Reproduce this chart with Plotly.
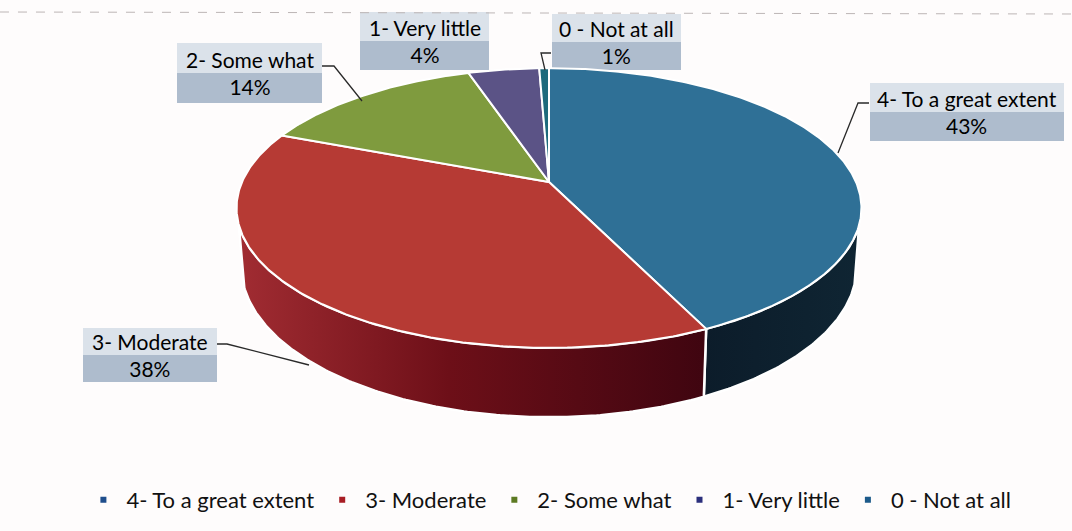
import math
import plotly.graph_objects as go

# ---- data ----
categories = ["4- To a great extent", "3- Moderate", "2- Some what", "1- Very little", "0 - Not at all"]
values = [43, 38, 14, 4.4, 0.6]

# ---- styles ----
top_colors = ["#2f7096", "#b63a34", "#7f9b3e", "#5b5386", "#1d6a7c"]
side_gradients = {
    0: [[0, "#0c1c2a"], [1, "#0f2533"]],
    1: [[0, "#a12c32"], [0.45, "#6d0f18"], [1, "#3f0510"]],
}
legend_colors = ["#1f4e8c", "#a81d24", "#5d7a22", "#2b2f7c", "#1c5a8a"]

# ---- projection of the pie plane ----
APEX_X, APEX_Y = 549, 182
SCALE_X, SCALE_Y, PERSP = 307, 135, 0.186
DEPTH, LOWER_SHRINK = 56.5, 0.985
VISIBLE_V = 0.3


def project(t, radius=1.0, lower=False):
    u, v = radius * math.sin(t), -radius * math.cos(t)
    s = 1 / (1 - PERSP * v)
    x, y = APEX_X + SCALE_X * u * s, APEX_Y + SCALE_Y * v * s
    if lower:
        x = APEX_X + (x - APEX_X) * LOWER_SHRINK
        y += DEPTH * s
    return x, y


def arc(a0, a1, lower=False):
    n = max(2, int(abs(a1 - a0) / 0.01))
    return [project(a0 + (a1 - a0) * i / n, lower=lower) for i in range(n + 1)]


total = sum(values)
edges = [0.0]
for val in values:
    edges.append(edges[-1] + 2 * math.pi * val / total)

vis0 = math.acos(-VISIBLE_V)
vis1 = 2 * math.pi - vis0

fig = go.Figure()

# side walls
for i, val in enumerate(values):
    a0, a1 = max(edges[i], vis0), min(edges[i + 1], vis1)
    if a1 <= a0:
        continue
    pts = arc(a0, a1) + arc(a1, a0, lower=True)
    pts.append(pts[0])
    fig.add_trace(go.Scatter(
        x=[p[0] for p in pts], y=[p[1] for p in pts], mode="lines", fill="toself",
        fillgradient=dict(type="horizontal", colorscale=side_gradients.get(i, [[0, top_colors[i]], [1, top_colors[i]]])),
        line=dict(color="white", width=2.5), showlegend=False, hoverinfo="skip"))

# top faces
for i, val in enumerate(values):
    pts = [project(0, radius=0)] + arc(edges[i], edges[i + 1]) + [project(0, radius=0)]
    fig.add_trace(go.Scatter(
        x=[p[0] for p in pts], y=[p[1] for p in pts], mode="lines", fill="toself",
        fillcolor=top_colors[i], line=dict(color="white", width=2),
        showlegend=False, name=categories[i], hoverinfo="name"))

# legend entries
for name, col in zip(categories, legend_colors):
    fig.add_trace(go.Scatter(x=[None], y=[None], mode="markers", name=name,
                             marker=dict(symbol="square", size=6, color=col)))

# data labels
label_boxes = [(870, 1064, 83, 141), (83, 217, 328, 382), (177, 322, 43, 103), (360, 489, 12, 70), (552, 681, 14, 70)]
annotations = []
shapes = []
for name, val, (x0, x1, y0, y1) in zip(categories, values, label_boxes):
    shapes.append(dict(type="rect", x0=x0, x1=x1, y0=y0, y1=(y0 + y1) / 2, xref="x", yref="y",
                       fillcolor="#dbe2ea", line_width=0, layer="below"))
    shapes.append(dict(type="rect", x0=x0, x1=x1, y0=(y0 + y1) / 2, y1=y1, xref="x", yref="y",
                       fillcolor="#aebccd", line_width=0, layer="below"))
    annotations.append(dict(x=(x0 + x1) / 2, y=(y0 + y1) / 2, xref="x", yref="y", showarrow=False,
                            text=f"{name}<br>{round(val)}%", align="center",
                            font=dict(family="Lato", size=21, color="#000000")))

# leader lines
leaders = [
    [(838, 153), (858, 103), (869, 103)],
    [(217, 344), (227, 344), (309, 365)],
    [(322, 66), (334, 66), (362, 101)],
    [(551, 53), (541, 53), (545, 70)],
]
for path in leaders:
    fig.add_trace(go.Scatter(x=[p[0] for p in path], y=[p[1] for p in path], mode="lines",
                             line=dict(color="#2a2a2a", width=1.3), showlegend=False, hoverinfo="skip"))

# faint scan rule at the top
shapes.append(dict(type="line", x0=0, x1=1072, y0=12, y1=14, xref="x", yref="y",
                   line=dict(color="#bdb6b6", width=1, dash="dash")))

fig.update_layout(
    width=1072, height=531, margin=dict(l=0, r=0, t=0, b=0),
    paper_bgcolor="#fefcfc", plot_bgcolor="#fefcfc",
    xaxis=dict(range=[0, 1072], visible=False, fixedrange=True),
    yaxis=dict(range=[531, 0], visible=False, fixedrange=True),
    annotations=annotations, shapes=shapes,
    legend=dict(orientation="h", x=0.075, xanchor="left", y=0.0586, yanchor="middle",
                font=dict(family="Lato", size=22, color="#111111"),
                bgcolor="rgba(0,0,0,0)", itemwidth=36),
    hovermode="closest",
)
fig.write_html("out.html", post_script="document.body.style.margin='0';",
               config={"displayModeBar": False})
